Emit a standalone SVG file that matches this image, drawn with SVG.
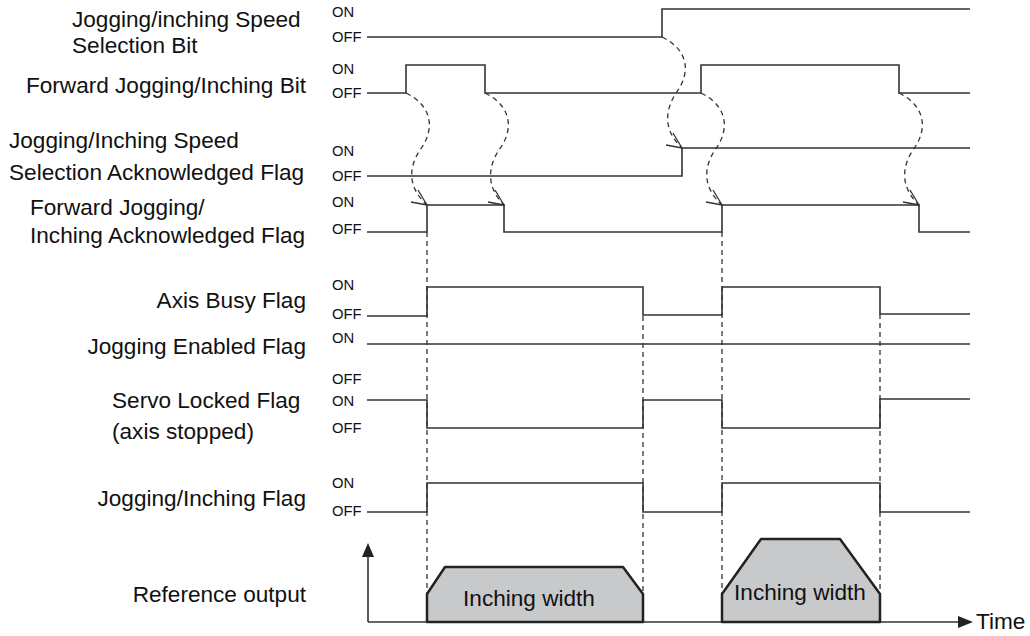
<svg xmlns="http://www.w3.org/2000/svg" xmlns:xlink="http://www.w3.org/1999/xlink" width="1030" height="636" viewBox="0 0 1030 636">
<style>
.lbl{font-family:"Liberation Sans",Arial,sans-serif;font-size:22.6px;fill:#111}
.r{text-anchor:end}
.st{font-family:"Liberation Sans",Arial,sans-serif;font-size:14.8px;fill:#111}
.wave{fill:none;stroke:#333;stroke-width:1.6}
.dash{fill:none;stroke:#333;stroke-width:1.3;stroke-dasharray:5 4}
.ah{fill:none;stroke:#333;stroke-width:1.3}
.trap{fill:#c8c9cb;stroke:#222;stroke-width:2.5;stroke-linejoin:round}
.axis{fill:none;stroke:#333;stroke-width:1.6}
</style>
<defs>
<path id="ahead" class="ah" d="M-16,-3 L0,0 L-9,-15"/>
</defs>
<rect width="1030" height="636" fill="#fff"/>

<g id="labels">
<text class="lbl" x="72" y="27">Jogging/inching Speed</text>
<text class="lbl" x="72" y="53">Selection Bit</text>
<text class="lbl r" x="306" y="93">Forward Jogging/Inching Bit</text>
<text class="lbl" x="9" y="148">Jogging/Inching Speed</text>
<text class="lbl" x="9" y="180">Selection Acknowledged Flag</text>
<text class="lbl" x="30" y="215">Forward Jogging/</text>
<text class="lbl" x="30" y="243">Inching Acknowledged Flag</text>
<text class="lbl r" x="306" y="308">Axis Busy Flag</text>
<text class="lbl r" x="306" y="354">Jogging Enabled Flag</text>
<text class="lbl" x="112" y="408">Servo Locked Flag</text>
<text class="lbl" x="112" y="439">(axis stopped)</text>
<text class="lbl r" x="306" y="506">Jogging/Inching Flag</text>
<text class="lbl r" x="306" y="602">Reference output</text>
</g>

<g id="states">
<text class="st" x="332" y="17">ON</text><text class="st" x="332" y="42">OFF</text>
<text class="st" x="332" y="74">ON</text><text class="st" x="332" y="98">OFF</text>
<text class="st" x="332" y="156">ON</text><text class="st" x="332" y="181">OFF</text>
<text class="st" x="332" y="207">ON</text><text class="st" x="332" y="234">OFF</text>
<text class="st" x="332" y="290">ON</text><text class="st" x="332" y="319">OFF</text>
<text class="st" x="332" y="343">ON</text>
<text class="st" x="332" y="384">OFF</text><text class="st" x="332" y="406">ON</text><text class="st" x="332" y="433">OFF</text>
<text class="st" x="332" y="488">ON</text><text class="st" x="332" y="516">OFF</text>
</g>

<g id="connectors">
<path class="dash" d="M427,232 V594"/>
<path class="dash" d="M643,316 V594"/>
<path class="dash" d="M722,232 V594"/>
<path class="dash" d="M880,314 V594"/>
<path class="dash" d="M406,93 C433,106 435,130 420,150 C408,168 408,188 427,205"/>
<path class="dash" d="M485,93 C512,106 514,130 499,150 C487,168 487,188 504,205"/>
<path class="dash" d="M662,37 C689,50 691,73 676,93 C664,112 664,131 682,148"/>
<path class="dash" d="M701,93 C728,106 730,130 715,150 C703,168 703,188 722,205"/>
<path class="dash" d="M899,93 C926,106 928,130 913,150 C901,168 901,188 919,205"/>
<use xlink:href="#ahead" transform="translate(427,205)"/>
<use xlink:href="#ahead" transform="translate(504,205)"/>
<use xlink:href="#ahead" transform="translate(682,148)"/>
<use xlink:href="#ahead" transform="translate(722,205)"/>
<use xlink:href="#ahead" transform="translate(919,205)"/>
</g>

<g id="waves">
<path id="w1" class="wave" d="M367,37 H662 V9 H970"/>
<path id="w2" class="wave" d="M367,93 H406 V65 H485 V93 H701 V65 H899 V93 H970"/>
<path id="w3" class="wave" d="M367,176 H682 V148 H970"/>
<path id="w4" class="wave" d="M367,232 H427 V205 H504 V232 H722 V205 H919 V232 H970"/>
<path id="w5" class="wave" d="M367,316 H427 V287 H643 V315 H722 V287 H880 V314 H970"/>
<path id="w6" class="wave" d="M367,344 H970"/>
<path id="w7" class="wave" d="M367,400 H427 V428 H643 V400 H722 V428 H880 V399 H970"/>
<path id="w8" class="wave" d="M367,512 H427 V483 H643 V512 H722 V483 H880 V512 H970"/>
</g>

<g id="output-axes">
<path class="axis" d="M368,622 V554"/>
<polygon points="368,543 362,557 374,557" fill="#222"/>
<path class="axis" d="M368,622 H960"/>
<polygon points="973,622 958,616 958,628" fill="#222"/>
<text class="lbl" x="976" y="629">Time</text>
</g>

<g id="pulse1">
<polygon class="trap" points="427,594 445,567 623,567 643,594 643,622 427,622"/>
<text class="lbl" x="529" y="606" text-anchor="middle">Inching width</text>
</g>
<g id="pulse2">
<polygon class="trap" points="722,594 761,539 840,539 880,594 880,622 722,622"/>
<text class="lbl" x="800" y="600" text-anchor="middle">Inching width</text>
</g>
</svg>
